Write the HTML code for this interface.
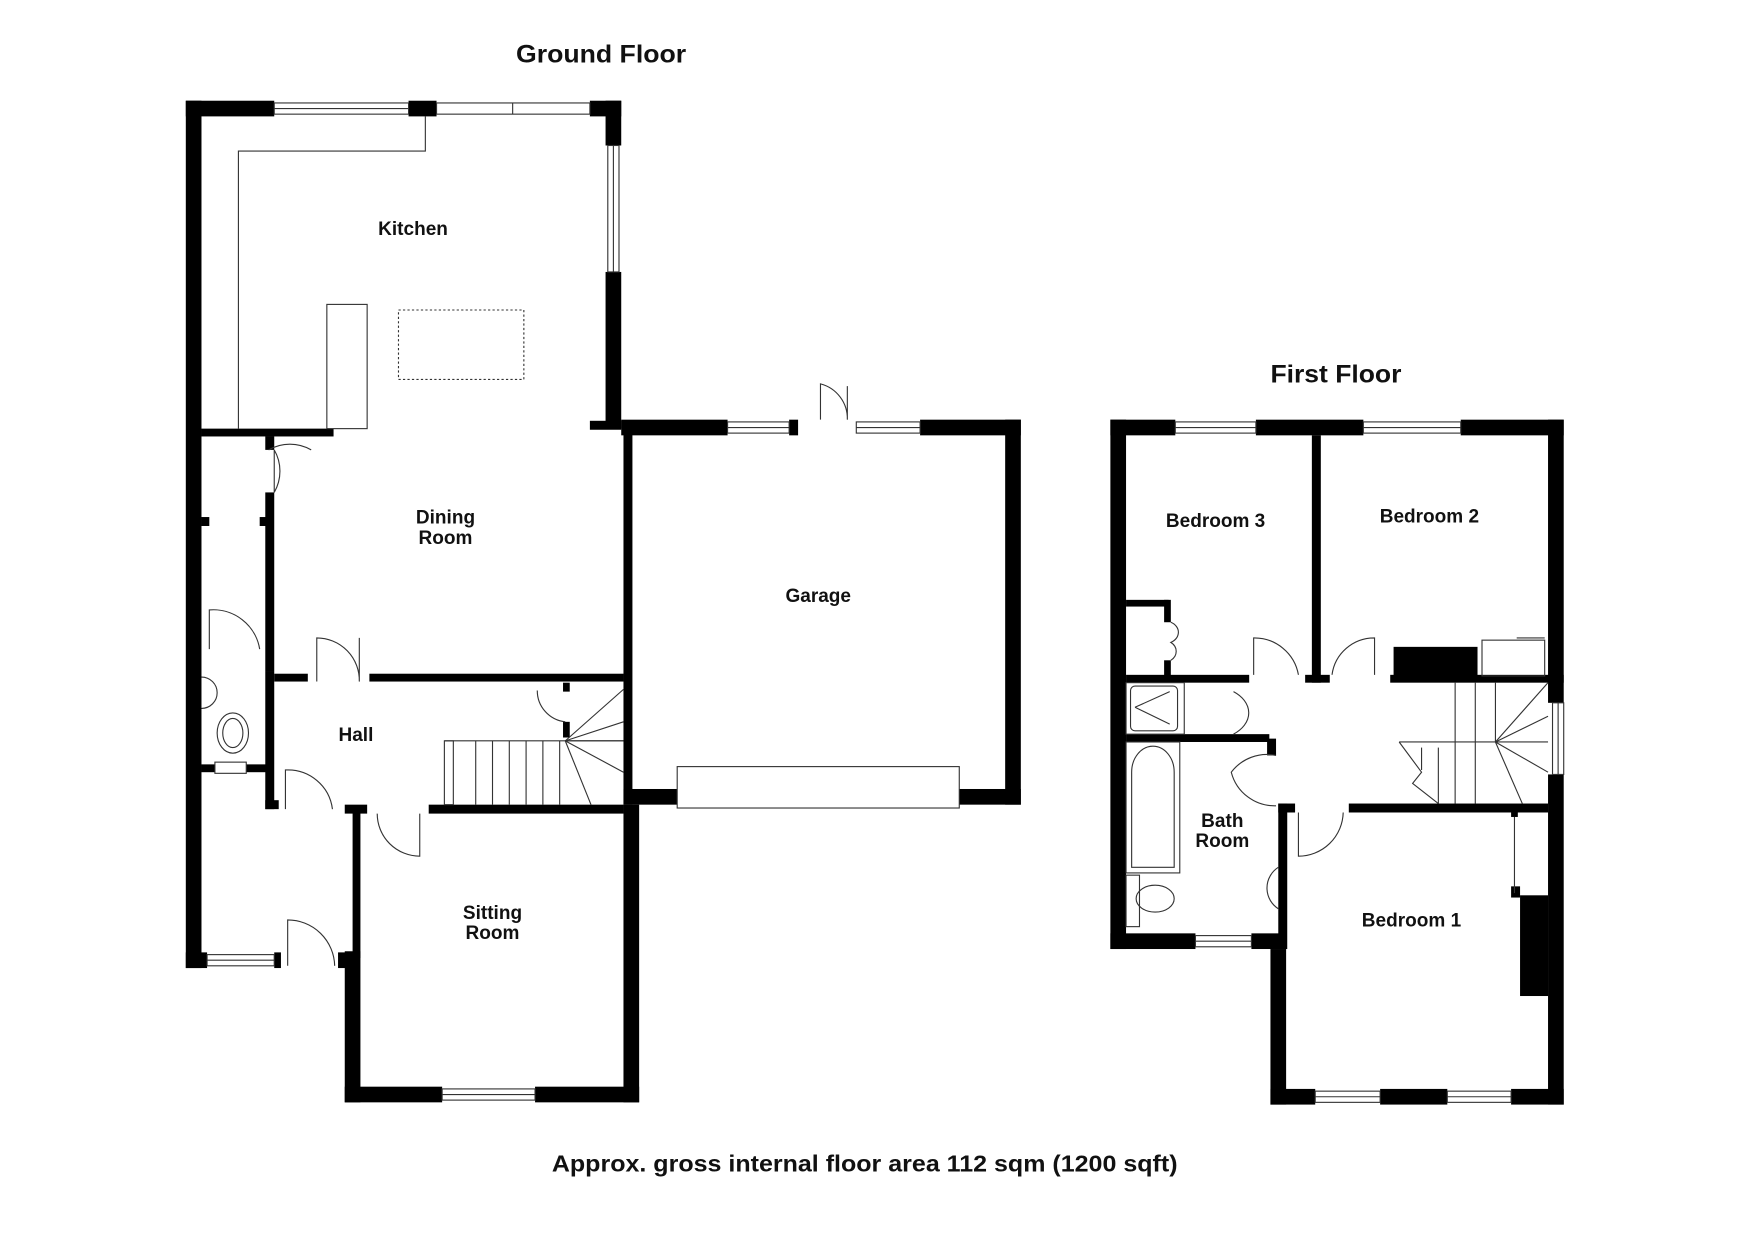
<!DOCTYPE html>
<html><head><meta charset="utf-8"><style>
html,body{margin:0;padding:0;background:#fff;}
svg{display:block;}
text{font-family:"Liberation Sans",Arial,sans-serif;font-weight:bold;fill:#111;}
</style></head><body>
<svg width="1754" height="1240" viewBox="0 0 1567 1108" preserveAspectRatio="none" xmlns="http://www.w3.org/2000/svg">
<rect width="1567" height="1108" fill="#fff"/>
<g fill="#000">
<rect x="166" y="90" width="14" height="775"/>
<rect x="166" y="90" width="79" height="14"/>
<rect x="365" y="90" width="25" height="14"/>
<rect x="527" y="90" width="28" height="14"/>
<rect x="541" y="90" width="14" height="40"/>
<rect x="541" y="243" width="14" height="140"/>
<rect x="527" y="376" width="28" height="8"/>
<rect x="555" y="375" width="95" height="14"/>
<rect x="705" y="375" width="8" height="14"/>
<rect x="822" y="375" width="90" height="14"/>
<rect x="898" y="375" width="14" height="344"/>
<rect x="857" y="705" width="55" height="14"/>
<rect x="557" y="705" width="48" height="14"/>
<rect x="557" y="383" width="8" height="336"/>
<rect x="557" y="719" width="14" height="266"/>
<rect x="308" y="971" width="87" height="14"/>
<rect x="478" y="971" width="93" height="14"/>
<rect x="308" y="850" width="14" height="135"/>
<rect x="315" y="726" width="7" height="130"/>
<rect x="166" y="851" width="19" height="14"/>
<rect x="245" y="851" width="6" height="14"/>
<rect x="302" y="851" width="14" height="14"/>
<rect x="180" y="383" width="118" height="7"/>
<rect x="237" y="390" width="8" height="12"/>
<rect x="237" y="440" width="8" height="160"/>
<rect x="180" y="462" width="7" height="8"/>
<rect x="232" y="462" width="8" height="8"/>
<rect x="237" y="600" width="8" height="123"/>
<rect x="245" y="602" width="30" height="7"/>
<rect x="330" y="602" width="227" height="7"/>
<rect x="180" y="683" width="12" height="7"/>
<rect x="220" y="683" width="20" height="7"/>
<rect x="237" y="715" width="12" height="8"/>
<rect x="308" y="719" width="20" height="8"/>
<rect x="383" y="719" width="174" height="8"/>
<rect x="503" y="610" width="6" height="8"/>
<rect x="503" y="645" width="6" height="14"/>
<rect x="992" y="375" width="14" height="473"/>
<rect x="992" y="375" width="58" height="14"/>
<rect x="1122" y="375" width="96" height="14"/>
<rect x="1305" y="375" width="92" height="14"/>
<rect x="1383" y="375" width="14" height="253"/>
<rect x="1383" y="692" width="14" height="295"/>
<rect x="1135" y="973" width="40" height="14"/>
<rect x="1233" y="973" width="60" height="14"/>
<rect x="1350" y="973" width="47" height="14"/>
<rect x="992" y="834" width="76" height="14"/>
<rect x="1118" y="834" width="31" height="14"/>
<rect x="1135" y="848" width="14" height="139"/>
<rect x="1172" y="389" width="8" height="221"/>
<rect x="1006" y="603" width="110" height="7"/>
<rect x="1006" y="536" width="38" height="6"/>
<rect x="1040" y="536" width="6" height="20"/>
<rect x="1040" y="590" width="6" height="15"/>
<rect x="1166" y="603" width="22" height="7"/>
<rect x="1242" y="603" width="155" height="7"/>
<rect x="1245" y="578" width="75" height="30"/>
<rect x="1006" y="656" width="128" height="7"/>
<rect x="1132" y="660" width="8" height="15"/>
<rect x="1142" y="718" width="15" height="8"/>
<rect x="1142" y="718" width="8" height="130"/>
<rect x="1205" y="718" width="178" height="8"/>
<rect x="1350" y="726" width="6" height="4"/>
<rect x="1350" y="792" width="8" height="10"/>
<rect x="1358" y="800" width="25" height="90"/>
</g>
<g fill="none" stroke="#333" stroke-width="1">
<rect x="245" y="92" width="120" height="10"/><line x1="245" y1="97" x2="365" y2="97"/>
<rect x="390" y="92" width="137" height="10"/><line x1="458" y1="92" x2="458" y2="102"/>
<rect x="543" y="130" width="10" height="113"/><line x1="548" y1="130" x2="548" y2="243"/>
<rect x="650" y="377" width="55" height="10"/><line x1="650" y1="382" x2="705" y2="382"/>
<rect x="765" y="377" width="57" height="10"/><line x1="765" y1="382" x2="822" y2="382"/>
<rect x="605" y="685" width="252" height="37"/>
<rect x="395" y="973" width="83" height="10"/><line x1="395" y1="978" x2="478" y2="978"/>
<rect x="185" y="853" width="60" height="10"/><line x1="185" y1="858" x2="245" y2="858"/>
<rect x="192" y="681" width="28" height="10"/>
<rect x="1050" y="377" width="72" height="10"/><line x1="1050" y1="382" x2="1122" y2="382"/>
<rect x="1218" y="377" width="87" height="10"/><line x1="1218" y1="382" x2="1305" y2="382"/>
<rect x="1387" y="628" width="10" height="64"/><line x1="1392" y1="628" x2="1392" y2="692"/>
<rect x="1175" y="975" width="58" height="10"/><line x1="1175" y1="980" x2="1233" y2="980"/>
<rect x="1293" y="975" width="57" height="10"/><line x1="1293" y1="980" x2="1350" y2="980"/>
<rect x="1068" y="836" width="50" height="10"/><line x1="1068" y1="841" x2="1118" y2="841"/>
<polyline points="380,104 380,135 213,135 213,383"/>
<rect x="292" y="272" width="36" height="111"/>
<rect x="356" y="277" width="112" height="62" stroke-dasharray="2,2"/>
<path d="M245,402 L245,440 M245,402 A38,38 0 0 1 245,440"/>
<path d="M240,402 A38,38 0 0 1 278,402"/>
<path d="M283,609 L283,570 A38,38 0 0 1 321,609 M321,609 L321,570"/>
<path d="M187,580 L187,545 A42,42 0 0 1 232,580"/>
<path d="M255,723 L255,688 A40,40 0 0 1 297,723"/>
<path d="M337,727 A38,38 0 0 0 375,765 L375,727"/>
<path d="M257,863 L257,822 A42,42 0 0 1 299,863"/>
<path d="M480,617 A28,28 0 0 0 505,645"/>
<path d="M733,375 L733,343 A32,32 0 0 1 757,375 M757,375 L757,345"/>
<rect x="397" y="662" width="8" height="57"/>
<line x1="397" y1="662" x2="557" y2="662"/>
<line x1="425" y1="662" x2="425" y2="719"/><line x1="440" y1="662" x2="440" y2="719"/>
<line x1="455" y1="662" x2="455" y2="719"/><line x1="470" y1="662" x2="470" y2="719"/>
<line x1="485" y1="662" x2="485" y2="719"/><line x1="500" y1="662" x2="500" y2="719"/>
<line x1="505" y1="662" x2="557" y2="616"/><line x1="505" y1="662" x2="557" y2="645"/>
<line x1="505" y1="662" x2="557" y2="662"/><line x1="505" y1="662" x2="557" y2="690"/>
<line x1="505" y1="662" x2="528" y2="719"/>
<ellipse cx="208" cy="655" rx="14" ry="18"/><ellipse cx="208" cy="655" rx="9" ry="13"/>
<path d="M180,605 A14,14 0 0 1 180,633"/>
<path d="M1120,603 L1120,570 A40,40 0 0 1 1160,603"/>
<path d="M1190,603 A38,38 0 0 1 1228,570 L1228,603"/>
<path d="M1102,618 A35,24 0 0 1 1102,656"/>
<path d="M1140,675 A40,40 0 0 0 1100,690 A40,40 0 0 0 1140,720"/>
<path d="M1160,726 L1160,765 A40,40 0 0 0 1200,726"/>
<path d="M1046,556 A12,10 0 0 1 1046,574 A12,10 0 0 1 1046,590"/>
<rect x="1324" y="572" width="56" height="32"/>
<line x1="1355" y1="570" x2="1380" y2="570"/>
<line x1="1353" y1="730" x2="1353" y2="798"/>
<rect x="1010" y="613" width="42" height="40" rx="4"/>
<line x1="1014" y1="632" x2="1045" y2="618"/><line x1="1014" y1="632" x2="1045" y2="647"/>
<rect x="1006" y="610" width="52" height="46"/>
<rect x="1006" y="663" width="48" height="117"/>
<path d="M1011,775 L1011,690 A18,22 0 0 1 1049,690 L1049,775 Z"/>
<rect x="1006" y="782" width="12" height="46"/>
<ellipse cx="1032" cy="803" rx="17" ry="12"/>
<path d="M1142,775 A22,22 0 0 0 1142,812"/>
<line x1="1300" y1="610" x2="1300" y2="718"/><line x1="1318" y1="610" x2="1318" y2="718"/>
<line x1="1336" y1="610" x2="1336" y2="663"/>
<polyline points="1250,663 1336,663 1383,663"/>
<line x1="1336" y1="663" x2="1383" y2="610"/><line x1="1336" y1="663" x2="1383" y2="640"/>
<line x1="1336" y1="663" x2="1383" y2="690"/><line x1="1336" y1="663" x2="1360" y2="718"/>
<polyline points="1250,663 1270,690 1262,700 1285,718"/>
<line x1="1270" y1="668" x2="1270" y2="688"/><line x1="1285" y1="668" x2="1285" y2="718"/>
</g>
<g>
<text x="461" y="56" font-size="22" textLength="152" lengthAdjust="spacingAndGlyphs">Ground Floor</text>
<text x="1135" y="342" font-size="22" textLength="117" lengthAdjust="spacingAndGlyphs">First Floor</text>
<text x="493" y="1047" font-size="21" font-weight="normal" textLength="559" lengthAdjust="spacingAndGlyphs">Approx. gross internal floor area 112 sqm (1200 sqft)</text>
</g>
<g text-anchor="middle" font-size="17">
<text x="369" y="210">Kitchen</text>
<text x="398" y="468">Dining</text>
<text x="398" y="486">Room</text>
<text x="731" y="538">Garage</text>
<text x="318" y="662">Hall</text>
<text x="440" y="821">Sitting</text>
<text x="440" y="839">Room</text>
<text x="1086" y="471">Bedroom 3</text>
<text x="1277" y="467">Bedroom 2</text>
<text x="1092" y="739">Bath</text>
<text x="1092" y="757">Room</text>
<text x="1261" y="828">Bedroom 1</text>
</g>
</svg>
</body></html>
